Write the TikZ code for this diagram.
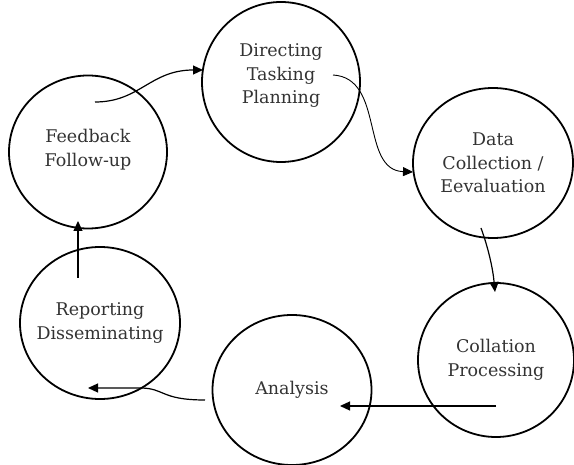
\documentclass[tikz,border=0pt]{standalone}
\usepackage{fontspec}
\setmainfont{DejaVu Serif}
\usetikzlibrary{shapes.geometric,arrows.meta}
\begin{document}
\begin{tikzpicture}[x=1pt,y=-1pt,
  stage/.style={draw,line width=1.8pt,ellipse,inner ysep=0pt,inner xsep=-12pt,minimum width=158pt,minimum height=153pt,
     text=black!80,align=center,font=\fontsize{17.5}{23.5}\selectfont},
  flow/.style={line width=1.2pt,-{Triangle[length=10pt,width=9pt]}}]
\useasboundingbox (0,0) rectangle (574,465);
\node[stage] (fb) at (88,152) {Feedback\\Follow-up\\[-15.5pt]};
\node[stage,minimum height=160pt] (dir) at (281,82) {Directing\\Tasking\\Planning\\[-7.5pt]};
\node[stage,minimum width=160pt,minimum height=150pt] (data) at (493,163) {Data\\Collection /\\Eevaluation};
\node[stage,minimum width=156pt,minimum height=154pt] (col) at (496,360) {Collation\\Processing};
\node[stage,minimum width=159pt,minimum height=150pt] (ana) at (292,390) {Analysis};
\node[stage,minimum width=160pt,minimum height=152pt] (rep) at (100,323) {Reporting\\Disseminating};
\coordinate (s1) at (95,102);
\coordinate (t1) at (203,70);
\coordinate (s2) at (333,75);
\coordinate (t2) at (413,172);
\coordinate (s3) at (481,228);
\coordinate (t3) at (495,292);
\coordinate (s4) at (496,406);
\coordinate (t4) at (340,406);
\coordinate (s5) at (205,400);
\coordinate (m5) at (140,388);
\coordinate (t5) at (88,388);
\coordinate (s6) at (78,278);
\coordinate (t6) at (78,221);
\draw[flow] (s1) .. controls (140,102) and (150,70) .. (t1);
\draw[flow,line width=0.9pt] (s2) .. controls (385,78) and (360,170) .. (t2);
\draw[flow] (s3) .. controls (489,250) and (493,270) .. (t3);
\draw[flow] (s4) -- (t4);
\draw[flow] (s5) .. controls (160,400) and (165,388) .. (m5) -- (t5);
\draw[flow] (s6) -- (t6);
\end{tikzpicture}
\end{document}
